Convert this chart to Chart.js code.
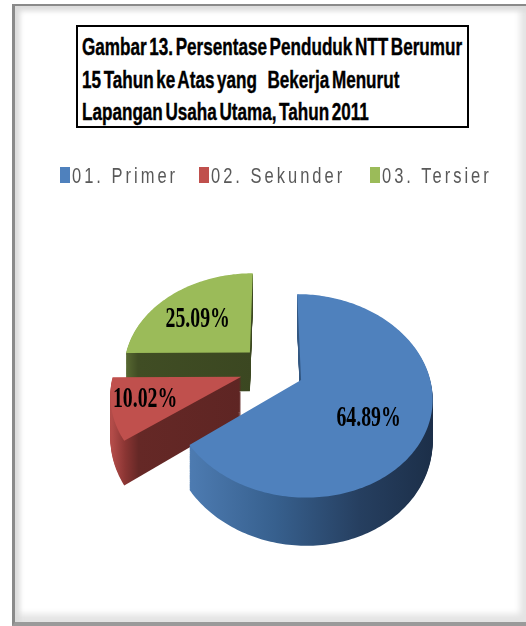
<!DOCTYPE html>
<html>
<head>
<meta charset="utf-8">
<script src="https://cdn.jsdelivr.net/npm/chart.js@4.4.0/dist/chart.umd.min.js"></script>
<style>
  body { margin: 0; width: 526px; height: 626px; overflow: hidden; background: #fff; position: relative; }
  #frame { position: absolute; left: 12px; top: 4px; width: 511px; height: 616px;
    border-top: 2px solid #8a8a8a; border-left: 3px solid #8a8a8a; border-bottom: 4px solid #9a9a9a;
    box-shadow: inset 5px 5px 5px #dcdcdc, inset -6px -8px 6px #e4e4e4; }
  #titleBox { position: absolute; left: 76px; top: 25px; width: 389px; height: 99px; border: 2px solid #000; background: #fff; }
  .tline { position: absolute; left: 4px; font: bold 24px/24px "Liberation Sans", Arial, sans-serif; white-space: pre;
    word-spacing: -3px; transform-origin: 0 0; color: #000; -webkit-text-stroke: 0.4px #000; }
  .legBox { position: absolute; top: 167px; width: 10px; height: 16px; }
  .legText { position: absolute; top: 165px; font: 22px/22px "Liberation Sans", Arial, sans-serif; letter-spacing: 4px;
    color: #595959; white-space: pre; transform: scaleX(0.75); transform-origin: 0 0; }
  canvas { position: absolute; left: 0; top: 0; }
</style>
</head>
<body>
<div id="frame"></div>
<canvas id="pie" width="526" height="626"></canvas>
<div id="titleBox">
  <div class="tline" style="top:8px">Gambar 13. Persentase Penduduk NTT Berumur</div>
  <div class="tline" style="top:41px">15 Tahun ke Atas yang    Bekerja Menurut</div>
  <div class="tline" style="top:73px">Lapangan Usaha Utama, Tahun 2011</div>
</div>
<div id="legend"></div>
<script>
const labels = ["01. Primer", "02. Sekunder", "03. Tersier"];
const values = [64.89, 10.02, 25.09];

const topColors = ["#4f81bd", "#c0504d", "#9bbb59"];
const legendX = [60, 199, 370];

// perspective of the 3D pie
const P = 0.0012, SY = 0.755, DEPTH = 40, EXPLODE = 32;
const labelT = [0.6, 0.75, 0.6];
const labelNudge = [[-6, 10], [0, -2], [-4, 3]];

// condense the title to the width seen in the picture
const lines = document.querySelectorAll(".tline");
const sc = 380 / lines[0].scrollWidth;
lines.forEach(l => l.style.transform = "scaleX(" + sc + ")");

// legend
const leg = document.getElementById("legend");
labels.forEach((lab, i) => {
  const b = document.createElement("div");
  b.className = "legBox";
  b.style.left = legendX[i] + "px";
  b.style.background = topColors[i];
  leg.appendChild(b);
  const t = document.createElement("div");
  t.className = "legText";
  t.style.left = (legendX[i] + 12) + "px";
  t.textContent = lab;
  leg.appendChild(t);
});

function proj(cx, cy, u, v, h) {
  const k = 1 / (1 - P * v);
  return [cx + u * k, cy + (SY * v + h) * k];
}

function slicePath(ctx, arc, ox, oy, h) {
  const { x, y, startAngle, endAngle, outerRadius } = arc;
  ctx.beginPath();
  let p = proj(x, y, ox, oy, h);
  ctx.moveTo(p[0], p[1]);
  const n = Math.max(8, Math.ceil((endAngle - startAngle) / 0.02));
  for (let i = 0; i <= n; i++) {
    const a = startAngle + (endAngle - startAngle) * i / n;
    p = proj(x, y, ox + outerRadius * Math.cos(a), oy + outerRadius * Math.sin(a), h);
    ctx.lineTo(p[0], p[1]);
  }
  ctx.closePath();
}

function sideFill(ctx, i) {
  let g;
  if (i === 0) {
    g = ctx.createLinearGradient(190, 0, 432, 0);
    g.addColorStop(0, "#4d7bb1");
    g.addColorStop(0.35, "#37608e");
    g.addColorStop(0.7, "#263f60");
    g.addColorStop(1, "#1c2f49");
  } else if (i === 1) {
    g = ctx.createLinearGradient(112, 0, 245, 0);
    g.addColorStop(0, "#b34c49");
    g.addColorStop(0.1, "#8a3533");
    g.addColorStop(0.2, "#652826");
    g.addColorStop(1, "#5e2523");
  } else {
    g = ctx.createLinearGradient(125, 0, 255, 0);
    g.addColorStop(0, "#5a6b33");
    g.addColorStop(0.1, "#404d24");
    g.addColorStop(1, "#3b4721");
  }
  return g;
}

const pie3d = {
  id: "pie3d",
  beforeDatasetsDraw(chart) {
    const ctx = chart.ctx;
    const arcs = chart.getDatasetMeta(0).data;
    const items = arcs.map((arc, i) => {
      const mid = (arc.startAngle + arc.endAngle) / 2;
      return { arc, i, mid, ox: EXPLODE * Math.cos(mid), oy: EXPLODE * Math.sin(mid) };
    });
    items.sort((a, b) => a.oy - b.oy);
    ctx.save();
    items.forEach(it => {
      ctx.fillStyle = sideFill(ctx, it.i);
      for (let h = DEPTH; h >= 1; h--) {
        slicePath(ctx, it.arc, it.ox, it.oy, h);
        ctx.fill();
      }
      slicePath(ctx, it.arc, it.ox, it.oy, 0);
      ctx.fillStyle = topColors[it.i];
      ctx.fill();
    });
    // data labels
    ctx.fillStyle = "#000";
    ctx.textAlign = "center";
    ctx.textBaseline = "middle";
    ctx.font = 'bold 30px "Liberation Serif", "Times New Roman", serif';
    items.forEach(it => {
      const r = it.arc.outerRadius * labelT[it.i];
      const p = proj(it.arc.x, it.arc.y, it.ox + r * Math.cos(it.mid), it.oy + r * Math.sin(it.mid), 0);
      ctx.save();
      ctx.translate(p[0] + labelNudge[it.i][0], p[1] + labelNudge[it.i][1]);
      ctx.scale(0.66, 1);
      ctx.fillText(values[it.i].toFixed(2) + "%", 0, 0);
      ctx.restore();
    });
    ctx.restore();
    return false;
  }
};

new Chart(document.getElementById("pie"), {
  type: "pie",
  data: {
    labels: labels,
    datasets: [{
      data: values,
      backgroundColor: topColors,
      borderWidth: 0
    }]
  },
  options: {
    responsive: false,
    animation: false,
    events: [],
    rotation: 0,
    layout: { padding: { left: 145, right: 127, top: 242, bottom: 130 } },
    plugins: {
      legend: { display: false },
      tooltip: { enabled: false }
    }
  },
  plugins: [pie3d]
});
</script>
</body>
</html>
